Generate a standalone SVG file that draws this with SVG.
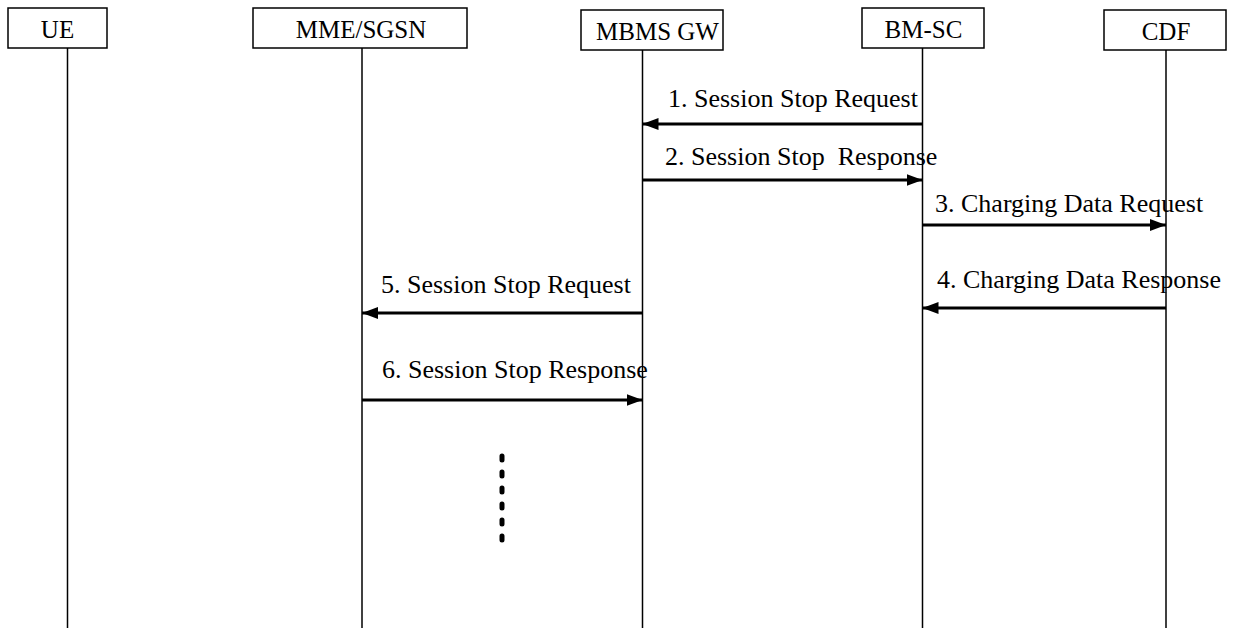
<svg xmlns="http://www.w3.org/2000/svg" width="1234" height="628" viewBox="0 0 1234 628">
<style>
.box{fill:#fff;stroke:#000;stroke-width:1.5}
.life{stroke:#000;stroke-width:1.5;fill:none}
.hd{font-family:"Liberation Serif","Times New Roman",serif;font-size:25px;fill:#000}
.lbl{font-family:"Liberation Serif","Times New Roman",serif;font-size:26px;fill:#000}
.msg{stroke:#000;stroke-width:3;fill:none}
</style>
<defs>
<marker id="ah" viewBox="0 0 16 12" refX="16" refY="6" markerWidth="16" markerHeight="12" markerUnits="userSpaceOnUse" orient="auto">
<path d="M0,0 L16,6 L0,12 z" fill="#000"/>
</marker>
</defs>
<rect width="1234" height="628" fill="#fff"/>
<g id="ue">
<rect class="box" x="8" y="8" width="99" height="40"/>
<line class="life" x1="67.5" y1="48" x2="67.5" y2="628"/>
<text class="hd" x="57.5" y="38" text-anchor="middle">UE</text>
</g>
<g id="mme">
<rect class="box" x="253" y="8" width="214" height="40"/>
<line class="life" x1="362" y1="48" x2="362" y2="628"/>
<text class="hd" x="361" y="38" text-anchor="middle">MME/SGSN</text>
</g>
<g id="mbmsgw">
<rect class="box" x="581" y="10" width="142" height="40"/>
<line class="life" x1="642.5" y1="50" x2="642.5" y2="628"/>
<text class="hd" x="596" y="40">MBMS GW</text>
</g>
<g id="bmsc">
<rect class="box" x="862" y="8" width="122" height="40"/>
<line class="life" x1="922.5" y1="48" x2="922.5" y2="628"/>
<text class="hd" x="923.5" y="38" text-anchor="middle">BM-SC</text>
</g>
<g id="cdf">
<rect class="box" x="1104" y="10" width="122" height="40"/>
<line class="life" x1="1166" y1="50" x2="1166" y2="628"/>
<text class="hd" x="1166" y="40" text-anchor="middle">CDF</text>
</g>
<g id="connectors">
<line class="msg" x1="922.5" y1="124" x2="642.5" y2="124" marker-end="url(#ah)"/>
<line class="msg" x1="642.5" y1="180" x2="922.5" y2="180" marker-end="url(#ah)"/>
<line class="msg" x1="922.5" y1="225" x2="1166" y2="225" marker-end="url(#ah)"/>
<line class="msg" x1="1166" y1="308" x2="922.5" y2="308" marker-end="url(#ah)"/>
<line class="msg" x1="642.5" y1="313" x2="362" y2="313" marker-end="url(#ah)"/>
<line class="msg" x1="362" y1="400" x2="642.5" y2="400" marker-end="url(#ah)"/>
<line x1="502" y1="456" x2="502" y2="541" stroke="#000" stroke-width="5" stroke-linecap="round" stroke-dasharray="4 12"/>
</g>
<g id="labels">
<text class="lbl" x="668" y="107">1. Session Stop Request</text>
<text class="lbl" x="665" y="165" xml:space="preserve">2. Session Stop  Response</text>
<text class="lbl" x="935" y="212">3. Charging Data Request</text>
<text class="lbl" x="937" y="288">4. Charging Data Response</text>
<text class="lbl" x="381" y="293">5. Session Stop Request</text>
<text class="lbl" x="382" y="378">6. Session Stop Response</text>
</g>
</svg>
